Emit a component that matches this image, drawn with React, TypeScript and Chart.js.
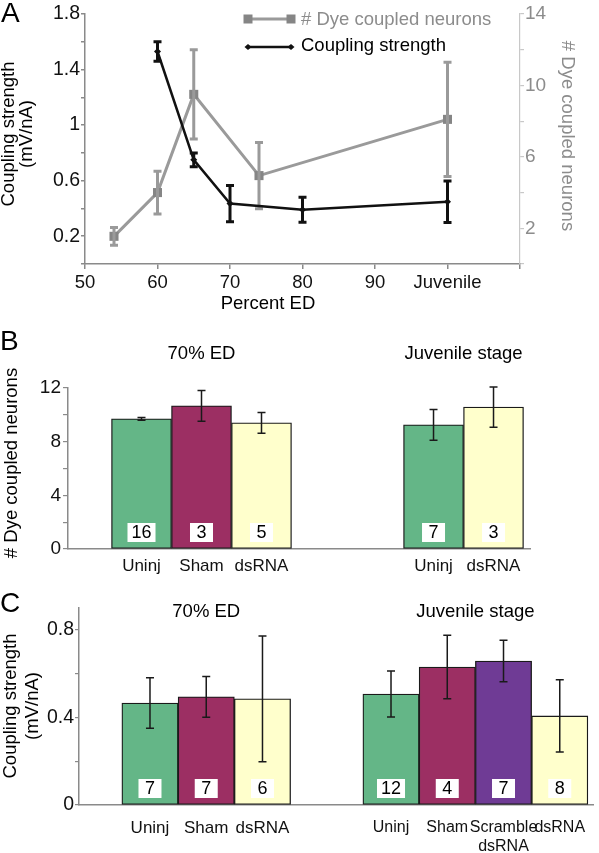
import React, { useEffect, useRef } from 'react';
import { Chart, registerables } from 'chart.js';

Chart.register(...registerables);

const FONT = '"Liberation Sans", Arial, Helvetica, sans-serif';

// ---------- Panel A data ----------
const aPercentED = [50, 60, 70, 80, 90, 100, 110];
const aTickLabels = ['50', '60', '70', '80', '90', 'Juvenile', ''];
const dyeStage = [54, 60, 65, 74, 100];
const dyeCount = [1.55, 4.0, 9.5, 4.95, 8.1];
const dyeSem = [0.5, 1.2, 2.5, 1.85, 3.2];
const couplingStage = [60, 65, 70, 80, 100];
const couplingStrength = [1.53, 0.75, 0.435, 0.39, 0.448];
const couplingSem = [0.07, 0.05, 0.13, 0.09, 0.15];

// ---------- Panel B data ----------
const b70Groups = ['Uninj', 'Sham', 'dsRNA'];
const b70Values = [9.7, 10.67, 9.4];
const b70Sem = [0.1, 1.15, 0.78];
const b70N = [16, 3, 5];
const bJuvGroups = ['Uninj', 'dsRNA'];
const bJuvValues = [9.25, 10.58];
const bJuvSem = [1.15, 1.5];
const bJuvN = [7, 3];

// ---------- Panel C data ----------
const c70Groups = ['Uninj', 'Sham', 'dsRNA'];
const c70Values = [0.466, 0.494, 0.485];
const c70Sem = [0.115, 0.093, 0.287];
const c70N = [7, 7, 6];
const cJuvGroups = ['Uninj', 'Sham', 'Scramble dsRNA', 'dsRNA'];
const cJuvValues = [0.507, 0.63, 0.658, 0.407];
const cJuvSem = [0.105, 0.145, 0.095, 0.165];
const cJuvN = [12, 4, 7, 8];

// ---------- styles ----------
const GREEN = '#64b687';
const MAROON = '#9c2f63';
const YELLOW = '#ffffcc';
const PURPLE = '#6f3b95';
const AXIS = '#8a8a8a';
const GRAY_TEXT = '#8c8c8c';
const groupColors: Record<string, string> = {
  Uninj: GREEN,
  Sham: MAROON,
  dsRNA: YELLOW,
  'Scramble dsRNA': PURPLE,
};

const fixSize = (size: number) => (scale: any) => {
  if (scale.isHorizontal()) scale.height = size;
  else scale.width = size;
  scale.paddingLeft = 0;
  scale.paddingRight = 0;
  scale.paddingTop = 0;
  scale.paddingBottom = 0;
};

function drawText(
  ctx: CanvasRenderingContext2D,
  text: string,
  x: number,
  y: number,
  opts: { size?: number; color?: string; align?: CanvasTextAlign; rotate?: number } = {}
) {
  const { size = 18.5, color = '#000', align = 'center', rotate = 0 } = opts;
  ctx.save();
  ctx.font = `${size}px ${FONT}`;
  ctx.fillStyle = color;
  ctx.textAlign = align;
  ctx.textBaseline = 'middle';
  ctx.translate(x, y);
  if (rotate) ctx.rotate(rotate);
  ctx.fillText(text, 0, 0);
  ctx.restore();
}

const near = (v: number, step: number, start = 0) => {
  const k = (v - start) / step;
  return Math.abs(k - Math.round(k)) < 1e-6;
};

// ---------- Panel A ----------
function configA(): any {
  const plugin = {
    id: 'aExtras',
    afterDatasetDraw(chart: any, args: any) {
      const ds = chart.data.datasets[args.index];
      const isDye = ds.yAxisID === 'y1';
      const values = isDye ? dyeCount : couplingStrength;
      const sems = isDye ? dyeSem : couplingSem;
      const ys = chart.scales[ds.yAxisID];
      const ctx = chart.ctx as CanvasRenderingContext2D;
      ctx.save();
      ctx.strokeStyle = isDye ? '#9a9a9a' : '#111';
      ctx.lineWidth = 3;
      args.meta.data.forEach((pt: any, i: number) => {
        const top = ys.getPixelForValue(values[i] + sems[i]);
        const bot = ys.getPixelForValue(values[i] - sems[i]);
        ctx.beginPath();
        ctx.moveTo(pt.x, top);
        ctx.lineTo(pt.x, bot);
        ctx.moveTo(pt.x - 4, top);
        ctx.lineTo(pt.x + 4, top);
        ctx.moveTo(pt.x - 4, bot);
        ctx.lineTo(pt.x + 4, bot);
        ctx.stroke();
      });
      ctx.restore();
    },
    afterDraw(chart: any) {
      const ctx = chart.ctx as CanvasRenderingContext2D;
      drawText(ctx, 'A', 1, 14, { size: 28, align: 'left' });
      drawText(ctx, 'Coupling strength', 9, 134, { rotate: -Math.PI / 2 });
      drawText(ctx, '(mV/nA)', 27, 134, { rotate: -Math.PI / 2 });
      drawText(ctx, '# Dye coupled neurons', 567, 136, { rotate: Math.PI / 2, color: GRAY_TEXT });
      drawText(ctx, 'Percent ED', 268, 304);
      // legend
      ctx.save();
      ctx.strokeStyle = '#9a9a9a';
      ctx.lineWidth = 3;
      ctx.beginPath();
      ctx.moveTo(248, 19);
      ctx.lineTo(291, 19);
      ctx.stroke();
      ctx.fillStyle = '#858585';
      ctx.fillRect(248 - 4.5, 19 - 4.5, 9, 9);
      ctx.fillRect(291 - 4.5, 19 - 4.5, 9, 9);
      ctx.strokeStyle = '#111';
      ctx.lineWidth = 2.5;
      ctx.beginPath();
      ctx.moveTo(248, 47);
      ctx.lineTo(291, 47);
      ctx.stroke();
      ctx.fillStyle = '#111';
      [248, 291].forEach((x) => {
        ctx.beginPath();
        ctx.moveTo(x - 3.5, 47);
        ctx.lineTo(x, 44);
        ctx.lineTo(x + 3.5, 47);
        ctx.lineTo(x, 50);
        ctx.closePath();
        ctx.fill();
      });
      ctx.restore();
      drawText(ctx, '# Dye coupled neurons', 301, 20, { align: 'left', color: GRAY_TEXT });
      drawText(ctx, 'Coupling strength', 301, 46, { align: 'left' });
    },
  };

  return {
    type: 'line',
    data: {
      datasets: [
        {
          label: 'Coupling strength',
          data: couplingStage.map((x, i) => ({ x, y: couplingStrength[i] })),
          yAxisID: 'y',
          borderColor: '#111',
          borderWidth: 2.5,
          pointStyle: 'rectRot',
          pointRadius: 3.5,
          pointBackgroundColor: '#111',
          pointBorderWidth: 0,
          tension: 0,
          order: 1,
        },
        {
          label: '# Dye coupled neurons',
          data: dyeStage.map((x, i) => ({ x, y: dyeCount[i] })),
          yAxisID: 'y1',
          borderColor: '#9a9a9a',
          borderWidth: 3,
          pointStyle: 'rect',
          pointRadius: 6.4,
          pointBackgroundColor: '#858585',
          pointBorderWidth: 0,
          tension: 0,
          order: 2,
        },
      ],
    },
    options: {
      responsive: false,
      animation: false,
      layout: { padding: { top: 14, left: 0, right: 0, bottom: 0 } },
      plugins: { legend: { display: false }, tooltip: { enabled: false } },
      scales: {
        x: {
          type: 'linear',
          position: 'bottom',
          min: 50,
          max: 110,
          afterFit: fixSize(56),
          afterBuildTicks: (s: any) => {
            s.ticks = aPercentED.map((v) => ({ value: v }));
          },
          ticks: {
            callback: (v: number) => aTickLabels[aPercentED.indexOf(v)] ?? '',
            font: { family: FONT, size: 18.5 },
            color: '#111',
            padding: 3,
            maxRotation: 0,
            autoSkip: false,
          },
          grid: { drawOnChartArea: false, drawTicks: true, tickLength: 5, color: AXIS, lineWidth: 1.5 },
          border: { color: AXIS, width: 1.5 },
        },
        y: {
          position: 'left',
          min: 0,
          max: 1.8,
          afterFit: fixSize(85),
          ticks: {
            stepSize: 0.2,
            callback: (v: number) => (v > 0.1 && near(v, 0.4, 0.2) ? String(Number(v.toFixed(1))) : ''),
            font: { family: FONT, size: 19.5 },
            color: '#111',
            padding: 1,
          },
          grid: { drawOnChartArea: false, drawTicks: true, tickLength: 4, color: AXIS, lineWidth: 1.5 },
          border: { color: AXIS, width: 1.5 },
        },
        y1: {
          position: 'right',
          min: 0,
          max: 14,
          afterFit: fixSize(79),
          ticks: {
            stepSize: 2,
            callback: (v: number) => (v > 1 && near(v, 4, 2) ? String(v) : ''),
            font: { family: FONT, size: 19 },
            color: GRAY_TEXT,
            padding: 1,
          },
          grid: { drawOnChartArea: false, drawTicks: true, tickLength: 4, color: '#c8c8c8', lineWidth: 1.2 },
          border: { color: '#c8c8c8', width: 1.2 },
        },
      },
    },
    plugins: [plugin],
  };
}

// ---------- Bar panels (B, C) ----------
interface BarSpec {
  letter: string;
  letterY: number;
  groups1: string[];
  values1: number[];
  sems1: number[];
  n1: number[];
  groups2: string[];
  values2: number[];
  sems2: number[];
  n2: number[];
  title1: string;
  title2: string;
  titleY: number;
  titleSize: number;
  gap: number;
  xMin: number;
  xMax: number;
  yMax: number;
  yStep: number;
  yLabelStep: number;
  yTitle: string[];
  yTitleX: number[];
  yTitleY: number;
  padTop: number;
  padRight: number;
  yWidth: number;
  xHeight: number;
  xLabelSize: number;
  xLabelSize2: number;
  xLabelPad: number;
  yTickLen: number;
  yTickPad: number;
  yTickSize: number;
}

function barConfig(s: BarSpec): any {
  const groups = [...s.groups1, ...s.groups2];
  const values = [...s.values1, ...s.values2];
  const sems = [...s.sems1, ...s.sems2];
  const ns = [...s.n1, ...s.n2];
  const positions = [...s.groups1.map((_, i) => i), ...s.groups2.map((_, i) => i + s.gap)];

  const plugin = {
    id: 'barExtras',
    afterDatasetsDraw(chart: any) {
      const ctx = chart.ctx as CanvasRenderingContext2D;
      const meta = chart.getDatasetMeta(0);
      const ys = chart.scales.y;
      const base = ys.getPixelForValue(0);
      meta.data.forEach((bar: any, i: number) => {
        const top = ys.getPixelForValue(values[i] + sems[i]);
        const bot = ys.getPixelForValue(values[i] - sems[i]);
        ctx.save();
        ctx.strokeStyle = '#1a1a1a';
        ctx.lineWidth = 1.5;
        ctx.beginPath();
        ctx.moveTo(bar.x, top);
        ctx.lineTo(bar.x, bot);
        ctx.moveTo(bar.x - 4, top);
        ctx.lineTo(bar.x + 4, top);
        ctx.moveTo(bar.x - 4, bot);
        ctx.lineTo(bar.x + 4, bot);
        ctx.stroke();
        ctx.font = `18px ${FONT}`;
        const label = String(ns[i]);
        const w = Math.max(23, ctx.measureText(label).width + 8);
        ctx.fillStyle = '#fff';
        ctx.fillRect(bar.x - w / 2, base - 7 - 19, w, 19);
        ctx.restore();
        drawText(ctx, label, bar.x, base - 7 - 9, { size: 18 });
      });
    },
    afterDraw(chart: any) {
      const ctx = chart.ctx as CanvasRenderingContext2D;
      const meta = chart.getDatasetMeta(0);
      const n1 = s.groups1.length;
      const xs = meta.data.map((b: any) => b.x);
      const c1 = (xs[0] + xs[n1 - 1]) / 2;
      const c2 = (xs[n1] + xs[xs.length - 1]) / 2;
      drawText(ctx, s.title1, c1, s.titleY, { size: s.titleSize });
      drawText(ctx, s.title2, c2, s.titleY, { size: s.titleSize });
      drawText(ctx, s.letter, 0, s.letterY, { size: 28, align: 'left' });
      s.yTitle.forEach((t, i) => drawText(ctx, t, s.yTitleX[i], s.yTitleY, { rotate: -Math.PI / 2 }));
    },
  };

  return {
    type: 'bar',
    data: {
      datasets: [
        {
          data: positions.map((x, i) => ({ x, y: values[i] })),
          backgroundColor: groups.map((g) => groupColors[g]),
          borderColor: '#1a1a1a',
          borderWidth: 1.3,
          borderSkipped: false,
          barPercentage: 1,
          categoryPercentage: 1,
        },
      ],
    },
    options: {
      responsive: false,
      animation: false,
      layout: { padding: { top: s.padTop, right: s.padRight, left: 0, bottom: 0 } },
      plugins: { legend: { display: false }, tooltip: { enabled: false } },
      scales: {
        x: {
          type: 'linear',
          offset: false,
          min: s.xMin,
          max: s.xMax,
          afterFit: fixSize(s.xHeight),
          afterBuildTicks: (sc: any) => {
            sc.ticks = positions.map((v) => ({ value: v }));
          },
          ticks: {
            callback: (_v: number, i: number) => groups[i].split(' '),
            font: (c: any) => ({
              family: FONT,
              size: c.index >= s.groups1.length ? s.xLabelSize2 : s.xLabelSize,
            }),
            color: '#111',
            padding: s.xLabelPad,
            maxRotation: 0,
            autoSkip: false,
          },
          grid: { offset: false, drawOnChartArea: false, drawTicks: false },
          border: { color: AXIS, width: 1.5 },
        },
        y: {
          min: 0,
          max: s.yMax,
          afterFit: fixSize(s.yWidth),
          ticks: {
            stepSize: s.yStep,
            callback: (v: number) => (near(v, s.yLabelStep) ? String(Number(v.toFixed(2))) : ''),
            font: { family: FONT, size: s.yTickSize },
            color: '#111',
            padding: s.yTickPad,
          },
          grid: { drawOnChartArea: false, drawTicks: true, tickLength: s.yTickLen, color: AXIS, lineWidth: 1.2 },
          border: { color: AXIS, width: 1.5 },
        },
      },
    },
    plugins: [plugin],
  };
}

function configB(): any {
  return barConfig({
    letter: 'B',
    letterY: 22,
    groups1: b70Groups,
    values1: b70Values,
    sems1: b70Sem,
    n1: b70N,
    groups2: bJuvGroups,
    values2: bJuvValues,
    sems2: bJuvSem,
    n2: bJuvN,
    title1: '70% ED',
    title2: 'Juvenile stage',
    titleY: 34,
    titleSize: 18.5,
    gap: 4.867,
    xMin: -1.225,
    xMax: 6.475,
    yMax: 12,
    yStep: 2,
    yLabelStep: 4,
    yTitle: ['# Dye coupled neurons'],
    yTitleX: [12],
    yTitleY: 143,
    padTop: 68,
    padRight: 69,
    yWidth: 68,
    xHeight: 31,
    xLabelSize: 17,
    xLabelSize2: 17,
    xLabelPad: 7,
    yTickLen: 5,
    yTickPad: 2,
    yTickSize: 19,
  });
}

function configC(): any {
  return barConfig({
    letter: 'C',
    letterY: 24,
    groups1: c70Groups,
    values1: c70Values,
    sems1: c70Sem,
    n1: c70N,
    groups2: cJuvGroups,
    values2: cJuvValues,
    sems2: cJuvSem,
    n2: cJuvN,
    title1: '70% ED',
    title2: 'Juvenile stage',
    titleY: 32,
    titleSize: 18.5,
    gap: 4.285,
    xMin: -1.262,
    xMax: 7.876,
    yMax: 0.9,
    yStep: 0.1,
    yLabelStep: 0.4,
    yTitle: ['Coupling strength', '(mV/nA)'],
    yTitleX: [11, 33],
    yTitleY: 126,
    padTop: 28,
    padRight: 6,
    yWidth: 79,
    xHeight: 48,
    xLabelSize: 17,
    xLabelSize2: 16,
    xLabelPad: 13,
    yTickLen: 4,
    yTickPad: 1,
    yTickSize: 19.5,
  });
}

export default function App() {
  const refA = useRef<HTMLCanvasElement>(null);
  const refB = useRef<HTMLCanvasElement>(null);
  const refC = useRef<HTMLCanvasElement>(null);

  useEffect(() => {
    const charts = [
      new Chart(refA.current!, configA()),
      new Chart(refB.current!, configB()),
      new Chart(refC.current!, configC()),
    ];
    return () => charts.forEach((c) => c.destroy());
  }, []);

  return (
    <div style={{ position: 'absolute', left: 0, top: 0, width: 599, height: 853, background: '#fff' }}>
      <canvas ref={refA} width={599} height={320} style={{ position: 'absolute', left: 0, top: 0 }} />
      <canvas ref={refB} width={599} height={260} style={{ position: 'absolute', left: 0, top: 320 }} />
      <canvas ref={refC} width={599} height={273} style={{ position: 'absolute', left: 0, top: 580 }} />
    </div>
  );
}
